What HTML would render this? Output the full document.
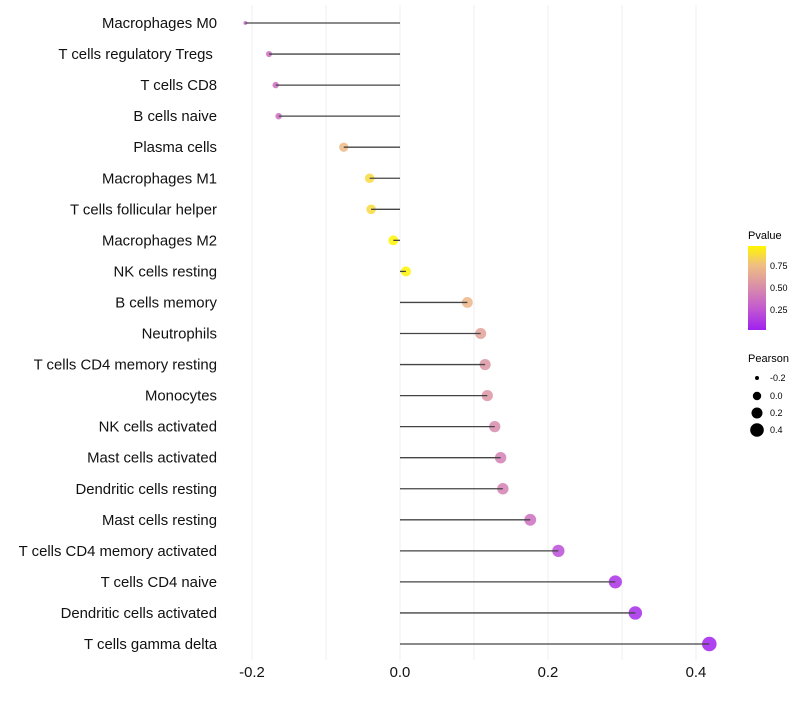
<!DOCTYPE html>
<html><head><meta charset="utf-8"><style>
body{margin:0;background:#fff;font-family:"Liberation Sans",sans-serif}
svg text{font-family:"Liberation Sans",sans-serif}
</style></head><body>
<svg id="chart" width="800" height="700" xmlns="http://www.w3.org/2000/svg">
<defs><linearGradient id="pg" x1="0" y1="1" x2="0" y2="0">
<stop offset="0" stop-color="#a020f0"/><stop offset="0.26" stop-color="#c35ad0"/><stop offset="0.52" stop-color="#d98fa8"/><stop offset="0.78" stop-color="#f0c080"/><stop offset="1" stop-color="#fff500"/></linearGradient></defs>
<g id="grid"></g><g id="marks"></g><g id="labels"></g><g id="ticks"></g>
<g>
<text x="748" y="239" font-size="11">Pvalue</text>
<rect x="748" y="246" width="18" height="84" fill="url(#pg)"/>
<text x="770" y="269" font-size="9">0.75</text>
<text x="770" y="291" font-size="9">0.50</text>
<text x="770" y="313" font-size="9">0.25</text>
</g>
<g>
<text x="748" y="362" font-size="11">Pearson</text>
<circle cx="757" cy="378" r="2" fill="#000"/><text x="770" y="381" font-size="9">-0.2</text>
<circle cx="757" cy="396" r="4.2" fill="#000"/><text x="770" y="399" font-size="9">0.0</text>
<circle cx="757" cy="413" r="5.5" fill="#000"/><text x="770" y="416" font-size="9">0.2</text>
<circle cx="757" cy="430" r="6.8" fill="#000"/><text x="770" y="433" font-size="9">0.4</text>
</g>
</svg>
<script>
const categories=["Macrophages M0","T cells regulatory  Tregs\u00a0","T cells CD8","B cells naive","Plasma cells","Macrophages M1","T cells follicular helper","Macrophages M2","NK cells resting","B cells memory","Neutrophils","T cells CD4 memory resting","Monocytes","NK cells activated","Mast cells activated","Dendritic cells resting","Mast cells resting","T cells CD4 memory activated","T cells CD4 naive","Dendritic cells activated","T cells gamma delta"];
const pearson=[-0.209,-0.177,-0.168,-0.164,-0.076,-0.041,-0.039,-0.009,0.008,0.091,0.109,0.115,0.118,0.128,0.136,0.139,0.176,0.214,0.291,0.318,0.418];
const pvalue=[0.3,0.35,0.35,0.35,0.7,0.85,0.85,0.97,0.96,0.68,0.58,0.52,0.52,0.47,0.42,0.42,0.35,0.2,0.08,0.05,0.02];
const xTicks=[-0.2,0.0,0.2,0.4];
const xMinor=[-0.1,0.1,0.3];
const NS="http://www.w3.org/2000/svg";
const X=v=>400+v*740;
const Y=i=>23+i*31.05;
function R(v){const k=[[-0.22,1.5],[-0.18,3],[-0.08,4.6],[0.1,5.5],[0.42,7.3]];if(v<=k[0][0])return k[0][1];for(let i=1;i<k.length;i++){if(v<=k[i][0]){const t=(v-k[i-1][0])/(k[i][0]-k[i-1][0]);return k[i-1][1]+t*(k[i][1]-k[i-1][1]);}}return 7.3;}
const stops=[[0,[160,32,240]],[0.25,[195,90,208]],[0.5,[217,143,168]],[0.75,[240,192,128]],[1,[255,245,0]]];
function col(p){p=(p-0.01)/0.96;p=Math.max(0,Math.min(1,p));for(let i=1;i<stops.length;i++){if(p<=stops[i][0]){const a=stops[i-1],b=stops[i],t=(p-a[0])/(b[0]-a[0]);return 'rgb('+a[1].map((c,k)=>Math.round(c+(b[1][k]-c)*t)).join(',')+')';}}return 'rgb(255,245,0)';}
function mk(t,a,p){const e=document.createElementNS(NS,t);for(const k in a)e.setAttribute(k,a[k]);p.appendChild(e);return e;}
const g=document.getElementById('grid'),m=document.getElementById('marks'),l=document.getElementById('labels'),tk=document.getElementById('ticks');
xMinor.concat(xTicks).forEach(v=>{const e=mk('line',{x1:X(v),x2:X(v),y1:5,y2:660,stroke:'#efefef','stroke-width':1},g);

});
categories.forEach((c,i)=>{const y=Y(i),v=pearson[i];
const pt=mk('circle',{cx:X(v),cy:y,r:R(v),fill:col(pvalue[i]),'fill-opacity':0.85},m);


const ln=mk('line',{x1:X(v),x2:X(0),y1:y,y2:y,stroke:'#444','stroke-width':1.3},m);


const t=mk('text',{x:217,y:y+5,'text-anchor':'end','font-size':14.9,fill:'#111'},l);t.textContent=c;

});
xTicks.forEach(v=>{const t=mk('text',{x:X(v),y:677,'text-anchor':'middle','font-size':14.9,fill:'#111'},tk);t.textContent=v.toFixed(1);

});
</script>
</body></html>
